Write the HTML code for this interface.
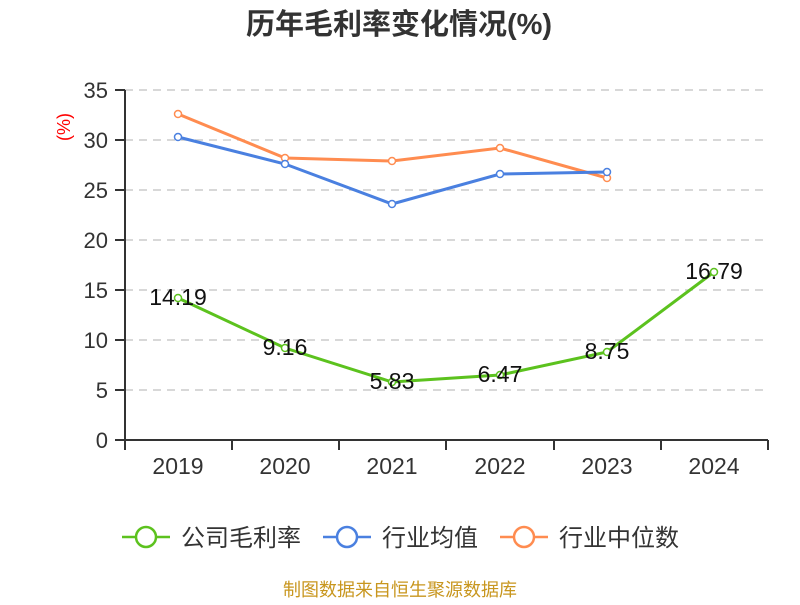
<!DOCTYPE html>
<html><head><meta charset="utf-8"><style>
body{margin:0;background:#fff;}
svg text{font-family:"Liberation Sans","Noto Sans CJK SC",sans-serif;}
</style></head><body>
<svg width="800" height="600" xmlns="http://www.w3.org/2000/svg">
<text x="399" y="34" text-anchor="middle" font-size="29" font-weight="bold" fill="#333">历年毛利率变化情况(%)</text>
<g stroke="#ccc" stroke-dasharray="8,6" stroke-width="1.5">
<line x1="125" y1="90" x2="768" y2="90"/><line x1="125" y1="140" x2="768" y2="140"/>
<line x1="125" y1="190" x2="768" y2="190"/><line x1="125" y1="240" x2="768" y2="240"/>
<line x1="125" y1="290" x2="768" y2="290"/><line x1="125" y1="340" x2="768" y2="340"/>
<line x1="125" y1="390" x2="768" y2="390"/>
</g>
<g stroke="#333" stroke-width="2">
<line x1="125" y1="90" x2="125" y2="440"/><line x1="125" y1="440" x2="768" y2="440"/>
<line x1="115" y1="90" x2="125" y2="90"/><line x1="115" y1="140" x2="125" y2="140"/><line x1="115" y1="190" x2="125" y2="190"/><line x1="115" y1="240" x2="125" y2="240"/><line x1="115" y1="290" x2="125" y2="290"/><line x1="115" y1="340" x2="125" y2="340"/><line x1="115" y1="390" x2="125" y2="390"/><line x1="115" y1="440" x2="125" y2="440"/>
<line x1="125" y1="440" x2="125" y2="450"/><line x1="232" y1="440" x2="232" y2="450"/><line x1="339" y1="440" x2="339" y2="450"/><line x1="446" y1="440" x2="446" y2="450"/><line x1="554" y1="440" x2="554" y2="450"/><line x1="661" y1="440" x2="661" y2="450"/><line x1="768" y1="440" x2="768" y2="450"/>
</g>
<g font-size="22" fill="#333" text-anchor="end">
<text x="108" y="98">35</text><text x="108" y="148">30</text><text x="108" y="198">25</text><text x="108" y="248">20</text><text x="108" y="298">15</text><text x="108" y="348">10</text><text x="108" y="398">5</text><text x="108" y="448">0</text>
</g>
<text transform="translate(70,127) rotate(-90)" text-anchor="middle" font-size="18" fill="red">(%)</text>
<g font-size="23" fill="#333" text-anchor="middle">
<text x="178" y="474">2019</text><text x="285" y="474">2020</text><text x="392" y="474">2021</text><text x="500" y="474">2022</text><text x="607" y="474">2023</text><text x="714" y="474">2024</text>
</g>
<g fill="none" stroke-width="3">
<polyline stroke="#ff8c50" points="178,114 285,158 392,161 500,148 607,178"/>
<polyline stroke="#4a80e0" points="178,137 285,164 392,204 500,174 607,172"/>
<polyline stroke="#5cc21e" points="178,298 285,348 392,382 500,375 607,352 714,272"/>
</g>
<g fill="#fff" stroke-width="1.5">
<g stroke="#ff8c50"><circle cx="178" cy="114" r="3.5"/><circle cx="285" cy="158" r="3.5"/><circle cx="392" cy="161" r="3.5"/><circle cx="500" cy="148" r="3.5"/><circle cx="607" cy="178" r="3.5"/></g>
<g stroke="#4a80e0"><circle cx="178" cy="137" r="3.5"/><circle cx="285" cy="164" r="3.5"/><circle cx="392" cy="204" r="3.5"/><circle cx="500" cy="174" r="3.5"/><circle cx="607" cy="172" r="3.5"/></g>
<g stroke="#5cc21e"><circle cx="178" cy="298" r="3.5"/><circle cx="285" cy="348" r="3.5"/><circle cx="392" cy="382" r="3.5"/><circle cx="500" cy="375" r="3.5"/><circle cx="607" cy="352" r="3.5"/><circle cx="714" cy="272" r="3.5"/></g>
</g>
<g font-size="23" fill="#111" text-anchor="middle">
<text x="178" y="305">14.19</text><text x="285" y="355">9.16</text><text x="392" y="389">5.83</text><text x="500" y="382">6.47</text><text x="607" y="359">8.75</text><text x="714" y="279">16.79</text>
</g>
<g stroke-width="2.5" fill="#fff">
<line x1="122" y1="537" x2="170" y2="537" stroke="#5cc21e"/><circle cx="146" cy="537" r="10" stroke="#5cc21e"/>
<line x1="323" y1="537" x2="371" y2="537" stroke="#4a80e0"/><circle cx="347" cy="537" r="10" stroke="#4a80e0"/>
<line x1="500" y1="537" x2="548" y2="537" stroke="#ff8c50"/><circle cx="524" cy="537" r="10" stroke="#ff8c50"/>
</g>
<g font-size="24" fill="#333">
<text x="181" y="546">公司毛利率</text><text x="382" y="546">行业均值</text><text x="559" y="546">行业中位数</text>
</g>
<text x="400" y="596" text-anchor="middle" font-size="18" fill="#c8961e">制图数据来自恒生聚源数据库</text>
</svg>
</body></html>
